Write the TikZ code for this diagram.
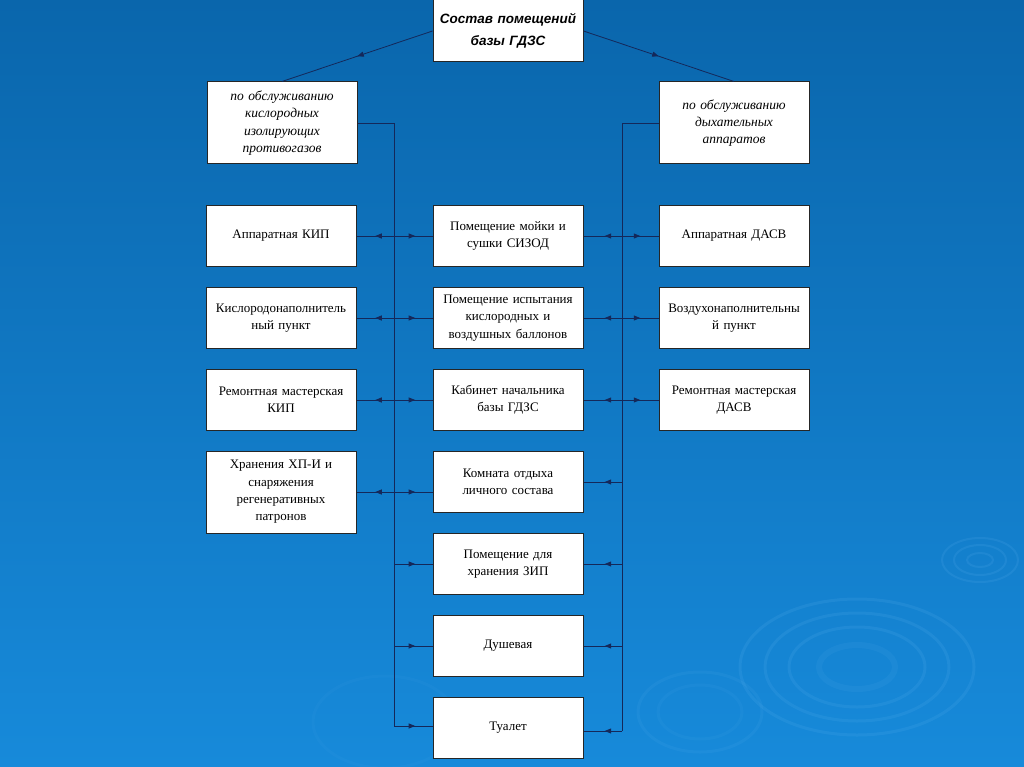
\documentclass[tikz,border=0pt]{standalone}
\usepackage{fontspec}
\setmainfont{Liberation Serif}
\setsansfont{Liberation Sans}
\usetikzlibrary{arrows.meta,decorations.markings}
\definecolor{bgtop}{HTML}{0A66AC}
\definecolor{bgbot}{HTML}{178ADA}
\definecolor{linec}{HTML}{14285A}
\definecolor{ripple}{HTML}{5FB4F0}
\begin{document}
\begin{tikzpicture}[x=1pt,y=-1pt,
  box/.style={draw=black!85, line width=1pt, fill=white, minimum width=150pt,
    minimum height=61pt, align=center, inner sep=1pt, text width=147pt,
    font=\fontsize{13}{17.3}\selectfont},
  tallbox/.style={box, minimum height=82pt},
  subbox/.style={box, minimum height=82pt, font=\itshape\fontsize{13.5}{17.3}\selectfont},
  titlebox/.style={box, minimum height=62pt, font=\sffamily\bfseries\itshape\fontsize{13.5}{22}\selectfont},
  conn/.style={draw=linec, line width=0.8pt},
  midarrow/.style={conn, postaction={decorate}, decoration={markings,
    mark=at position #1 with {\arrow[linec]{Triangle[length=6.5pt,width=5pt]}}}},
  midarrow/.default=0.55,
  ripplec/.style={draw=ripple, opacity=0.15, line width=3pt}
]
\useasboundingbox (0,0) rectangle (1024,767);
\shade[top color=bgtop, bottom color=bgbot] (0,0) rectangle (1024,767);
% ripples
\draw[ripplec] (857,667) ellipse (117 and 68);
\draw[ripplec] (857,667) ellipse (92 and 54);
\draw[ripplec] (857,667) ellipse (68 and 40);
\draw[ripplec, opacity=0.1, line width=6pt] (857,667) ellipse (38 and 22);
\draw[ripplec, opacity=0.1] (700,712) ellipse (62 and 40);
\draw[ripplec, opacity=0.08] (700,712) ellipse (42 and 27);
\draw[ripplec, opacity=0.15, line width=2pt] (980,560) ellipse (38 and 22);
\draw[ripplec, opacity=0.15, line width=2pt] (980,560) ellipse (26 and 15);
\draw[ripplec, opacity=0.15, line width=2pt] (980,560) ellipse (13 and 7);
\draw[ripplec, opacity=0.06] (385,722) ellipse (72 and 46);

% nodes
\node[titlebox] (top) at (508,31) {Состав помещений\\базы ГДЗС};
\node[subbox] (lsub) at (282,123) {по обслуживанию\\кислородных\\изолирующих\\противогазов};
\node[subbox] (rsub) at (734,123) {по обслуживанию\\дыхательных\\аппаратов};

\node[box] (l1) at (281,236) {Аппаратная КИП};
\node[box] (m1) at (508,236) {Помещение мойки и\\сушки СИЗОД};
\node[box] (r1) at (734,236) {Аппаратная ДАСВ};

\node[box] (l2) at (281,318) {Кислородонаполнитель\\ный пункт};
\node[box] (m2) at (508,318) {Помещение испытания\\кислородных и\\воздушных баллонов};
\node[box] (r2) at (734,318) {Воздухонаполнительны\\й пункт};

\node[box] (l3) at (281,400) {Ремонтная мастерская\\КИП};
\node[box] (m3) at (508,400) {Кабинет начальника\\базы ГДЗС};
\node[box] (r3) at (734,400) {Ремонтная мастерская\\ДАСВ};

\node[tallbox] (l4) at (281,492) {Хранения ХП-И и\\снаряжения\\регенеративных\\патронов};
\node[box] (m4) at (508,482) {Комната отдыха\\личного состава};
\node[box] (m5) at (508,564) {Помещение для\\хранения ЗИП};
\node[box] (m6) at (508,646) {Душевая};
\node[box] (m7) at (508,728) {Туалет};

% trunks
\coordinate (ltop) at (394,123);
\coordinate (lbot) at (394,726);
\coordinate (rtop) at (622,123);
\coordinate (rbot) at (622,731);

\draw[midarrow=0.5] (top.west) -- (lsub.north);
\draw[midarrow=0.5] (top.east) -- (rsub.north);

\draw[conn] (lsub.east) -- (ltop) -- (lbot);
\draw[conn] (rsub.west) -- (rtop) -- (rbot);

% branches
\foreach \n in {1,2,3}{
  \draw[midarrow=0.5] (ltop |- l\n.east) -- (l\n.east);
  \draw[midarrow=0.55] (ltop |- m\n.west) -- (m\n.west);
  \draw[midarrow=0.45] (rtop |- m\n.east) -- (m\n.east);
  \draw[midarrow=0.5] (rtop |- r\n.west) -- (r\n.west);
}
\draw[midarrow=0.5] (ltop |- l4.east) -- (l4.east);
\draw[midarrow=0.55] (ltop |- l4.east) -- (m4.west |- l4.east);
\foreach \n in {5,6}{
  \draw[midarrow=0.55] (ltop |- m\n.west) -- (m\n.west);
}
\draw[midarrow=0.55] (lbot) -- (lbot -| m7.west);
\foreach \n in {4,5,6}{
  \draw[midarrow=0.45] (rtop |- m\n.east) -- (m\n.east);
}
\draw[midarrow=0.45] (rbot) -- (rbot -| m7.east);
\end{tikzpicture}
\end{document}
